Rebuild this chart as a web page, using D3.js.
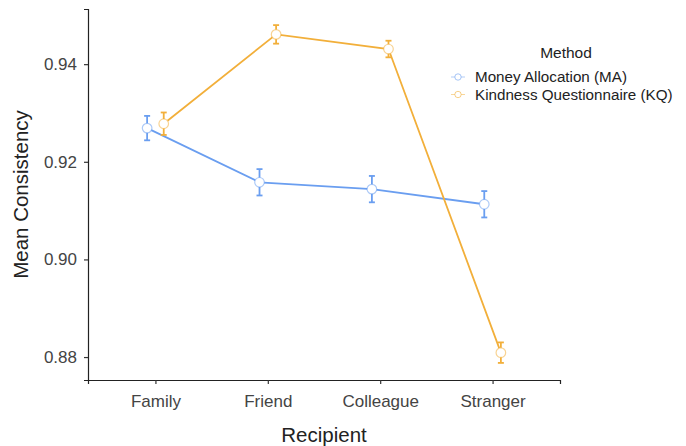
<!DOCTYPE html>
<html>
<head>
<meta charset="utf-8">
<script src="https://cdn.jsdelivr.net/npm/d3@7"></script>
<style>
  body { margin: 0; background: #fff; }
  svg { display: block; font-family: "Liberation Sans", Arial, sans-serif; }
</style>
</head>
<body>
<svg id="chart" width="686" height="446"></svg>
<script>
const recipients = ["Family", "Friend", "Colleague", "Stranger"];
const methods = ["Money Allocation (MA)", "Kindness Questionnaire (KQ)"];
const maMeans = [0.9269, 0.9158, 0.9144, 0.9113];
const maErrors = [0.0025, 0.0027, 0.0027, 0.0027];
const kqMeans = [0.9278, 0.9461, 0.9431, 0.8809];
const kqErrors = [0.0023, 0.0019, 0.0017, 0.0021];
const yTicks = [0.88, 0.90, 0.92, 0.94];

const COLORS = ["#6a9ef0", "#f2af3a"];
const margin = { top: 9, right: 126, bottom: 66, left: 88 };
const WIDTH = 686;
const HEIGHT = 446;

const svg = d3.select("#chart");

const series = [
  { name: methods[0], means: maMeans, errors: maErrors, offset: -8.3 },
  { name: methods[1], means: kqMeans, errors: kqErrors, offset: 8.3 },
];

const xScale = d3
  .scalePoint()
  .domain(recipients)
  .range([margin.left, WIDTH - margin.right])
  .padding(0.6);

const yScale = d3
  .scaleLinear()
  .domain([0.8753, 0.9513])
  .range([HEIGHT - margin.bottom, margin.top]);

// axes
const xAxis = svg
  .append("g")
  .attr("transform", `translate(0, ${HEIGHT - margin.bottom})`)
  .call(d3.axisBottom(xScale).tickSizeOuter(0).tickSize(4).tickPadding(11));

const yAxis = svg
  .append("g")
  .attr("transform", `translate(${margin.left}, 0)`)
  .call(
    d3
      .axisLeft(yScale)
      .tickValues(yTicks)
      .tickFormat(d3.format(".2f"))
      .tickSizeOuter(0)
      .tickSize(4)
      .tickPadding(7)
  );

[xAxis, yAxis].forEach((axis) => {
  axis.select(".domain").attr("stroke", "#222").attr("stroke-width", 1.2);
  axis.selectAll(".tick line").attr("stroke", "#333").attr("stroke-width", 1.2);
  axis
    .selectAll(".tick text")
    .attr("fill", "#444")
    .style("font-size", "17px")
    .style("font-family", "Liberation Sans, Arial, sans-serif");
});

svg
  .append("text")
  .attr("x", (margin.left + WIDTH - margin.right) / 2)
  .attr("y", 442)
  .attr("text-anchor", "middle")
  .attr("fill", "#222")
  .style("font-size", "20.5px")
  .text("Recipient");

svg
  .append("text")
  .attr("transform", `translate(28, ${(margin.top + HEIGHT - margin.bottom) / 2}) rotate(-90)`)
  .attr("text-anchor", "middle")
  .attr("fill", "#222")
  .style("font-size", "20.5px")
  .text("Mean Consistency");

// lines, error bars, points
const plot = svg.append("g");

series.forEach((s, i) => {
  const pts = recipients.map((r, j) => ({
    x: xScale(r) + s.offset,
    mean: s.means[j],
    err: s.errors[j],
  }));

  plot
    .append("path")
    .datum(pts)
    .attr("fill", "none")
    .attr("stroke", COLORS[i])
    .attr("stroke-width", 1.8)
    .attr("d", d3.line().x((d) => d.x).y((d) => yScale(d.mean)));

  const bars = plot.append("g").attr("stroke", COLORS[i]).attr("stroke-width", 1.8);

  bars
    .selectAll("line.v")
    .data(pts)
    .enter()
    .append("line")
    .attr("x1", (d) => d.x)
    .attr("x2", (d) => d.x)
    .attr("y1", (d) => yScale(d.mean + d.err))
    .attr("y2", (d) => yScale(d.mean - d.err));

  [1, -1].forEach((sign) => {
    bars
      .selectAll(null)
      .data(pts)
      .enter()
      .append("line")
      .attr("x1", (d) => d.x - 3)
      .attr("x2", (d) => d.x + 3)
      .attr("y1", (d) => yScale(d.mean + sign * d.err))
      .attr("y2", (d) => yScale(d.mean + sign * d.err));
  });

  plot
    .append("g")
    .selectAll("circle")
    .data(pts)
    .enter()
    .append("circle")
    .attr("cx", (d) => d.x)
    .attr("cy", (d) => yScale(d.mean))
    .attr("r", 4.8)
    .attr("fill", "#fff")
    .attr("stroke", COLORS[i])
    .attr("stroke-opacity", 0.55)
    .attr("stroke-width", 1.2);
});

// legend
const legend = svg.append("g").attr("transform", "translate(451, 0)");

legend
  .append("text")
  .attr("x", 115)
  .attr("y", 58)
  .attr("text-anchor", "middle")
  .attr("fill", "#222")
  .style("font-size", "15.5px")
  .text("Method");

methods.forEach((m, i) => {
  const y = 77 + i * 17.5;
  const g = legend.append("g").attr("transform", `translate(0, ${y})`);
  g.append("line")
    .attr("x1", 0)
    .attr("x2", 14)
    .attr("stroke", COLORS[i])
    .attr("stroke-opacity", 0.5)
    .attr("stroke-width", 1);
  g.append("circle")
    .attr("cx", 7)
    .attr("r", 3.2)
    .attr("fill", "#fff")
    .attr("stroke", COLORS[i])
    .attr("stroke-opacity", 0.6)
    .attr("stroke-width", 1);
  g.append("text")
    .attr("x", 24)
    .attr("y", 0)
    .attr("dy", "0.35em")
    .attr("fill", "#222")
    .style("font-size", "15.2px")
    .text(m);
});
</script>
</body>
</html>
